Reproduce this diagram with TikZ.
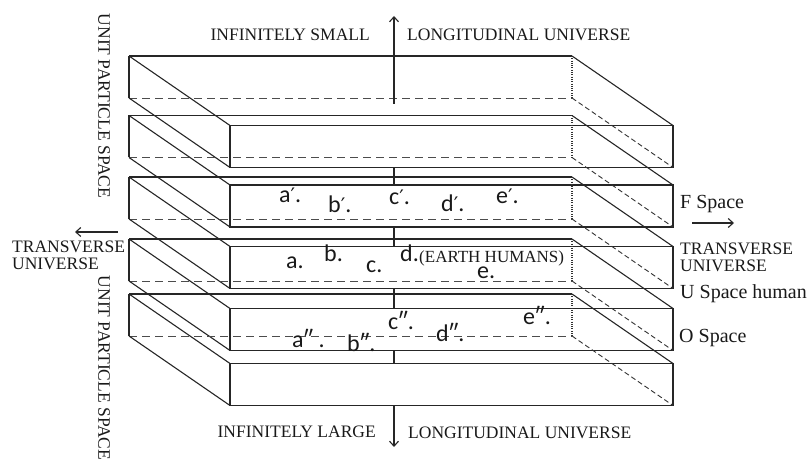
\documentclass[tikz,border=0pt]{standalone}
\usepackage{fontspec}
\setmainfont{Liberation Serif}
\newfontfamily\carlito{Carlito}
\newfontfamily\dejavu{DejaVu Sans}
\newcommand{\prm}{{\dejavu\fontsize{20}{20}\selectfont ′}}
\usetikzlibrary{arrows.meta}
\tikzset{
  edge/.style={line width=1.1pt, draw=black!85},
  hid/.style={line width=0.9pt, draw=black!70, dash pattern=on 8pt off 5pt},
  hiddiag/.style={line width=0.9pt, draw=black!80, dash pattern=on 5pt off 3pt},
  dotl/.style={line width=1.1pt, draw=black!80, dash pattern=on 1pt off 1.3pt},
  lbl/.style={font=\fontsize{17.5}{18}\selectfont, inner sep=0pt, text=black!90},
  rlbl/.style={font=\fontsize{20}{22}\selectfont, inner sep=0pt, anchor=base west, text=black!90},
  ptl/.style={font=\carlito\fontsize{24}{24}\selectfont, inner sep=0pt, anchor=base west, text=black!90},
  arr/.style={edge, -{Straight Barb[length=5pt,width=9pt]}},
}
\begin{document}
\begin{tikzpicture}[x=1pt,y=-1pt]
\useasboundingbox (0,0) rectangle (809,462);
% slabs
\foreach \b in {56,115.5,177,239,294}{
  \draw[edge] (129,\b) -- (572,\b);
  \draw[edge] (129,\b) -- (129,\b+42);
  \draw[hid] (129,\b+42) -- (572,\b+42);
  \draw[dotl] (572,\b) -- (572,\b+42);
  \draw[edge] (230,\b+69.5) rectangle (673,\b+111.5);
  \draw[edge] (129,\b) -- (230,\b+69.5);
  \draw[edge] (129,\b+42) -- (230,\b+111.5);
  \draw[edge] (572,\b) -- (673,\b+69.5);
  \draw[hiddiag] (572,\b+42) -- (673,\b+111.5);
}
% central axis
\coordinate (upS) at (394,104);
\coordinate (upE) at (394,16);
\coordinate (dnS) at (394,405.5);
\coordinate (dnE) at (394,447);
\draw[arr] (upS) -- (upE);
\draw[arr] (dnS) -- (dnE);
\foreach \t/\u in {167.5/185,227/246.5,288.5/308.5,350.5/363.5}{
  \draw[edge] (394,\t) -- (394,\u);
}
% side arrows
\coordinate (lS) at (118,232);
\coordinate (lE) at (75,232);
\coordinate (rS) at (692,223);
\coordinate (rE) at (734,223);
\draw[arr] (lS) -- (lE);
\draw[arr] (rS) -- (rE);
% top / bottom labels
\node[lbl, anchor=base east] (ismall) at (370,41) {INFINITELY SMALL};
\node[lbl, anchor=base west] (lontop) at (407,41) {LONGITUDINAL UNIVERSE};
\node[lbl, anchor=base east] (ilarge) at (376,437) {INFINITELY LARGE};
\node[lbl, anchor=base west] (lonbot) at (408,438) {LONGITUDINAL UNIVERSE};
% left labels
\node[lbl, rotate=-90] (ups1) at (104,106) {UNIT PARTICLE SPACE};
\node[lbl, rotate=-90] (ups2) at (104,368) {UNIT PARTICLE SPACE};
\node[lbl, anchor=base west] (tl1) at (12,253) {TRANSVERSE};
\node[lbl, anchor=base west] (tl2) at (12,270) {UNIVERSE};
% right labels
\node[rlbl] (fsp) at (680,209) {F Space};
\node[lbl, anchor=base west] (tr1) at (680,255) {TRANSVERSE};
\node[lbl, anchor=base west] (tr2) at (680,272) {UNIVERSE};
\node[rlbl] (usp) at (680,299) {U Space human};
\node[rlbl] (osp) at (679,343) {O Space};
% points, F space
\node[ptl] (a1) at (279,203) {a\prm.};
\node[ptl] (b1) at (328,213) {b\prm.};
\node[ptl] (c1) at (389,205) {c\prm.};
\node[ptl] (d1) at (441,212) {d\prm.};
\node[ptl] (e1) at (496,204) {e\prm.};
% points, U space
\node[ptl] (a0) at (286,269) {a.};
\node[ptl] (b0) at (324,262) {b.};
\node[ptl] (c0) at (366,273) {c.};
\node[ptl] (d0) at (400,262) {d.};
\node[lbl, anchor=base west, font=\fontsize{17}{17}\selectfont] (earth) at (419,263) {(EARTH HUMANS)};
\node[ptl] (e0) at (477,279) {e.};
% points, O space
\node[ptl] (a2) at (292,348) {a″ .};
\node[ptl] (b2) at (347,352) {b″.};
\node[ptl] (c2) at (388,330) {c″.};
\node[ptl] (d2) at (436,342) {d″.};
\node[ptl] (e2) at (523,325) {e″.};
\end{tikzpicture}
\end{document}
